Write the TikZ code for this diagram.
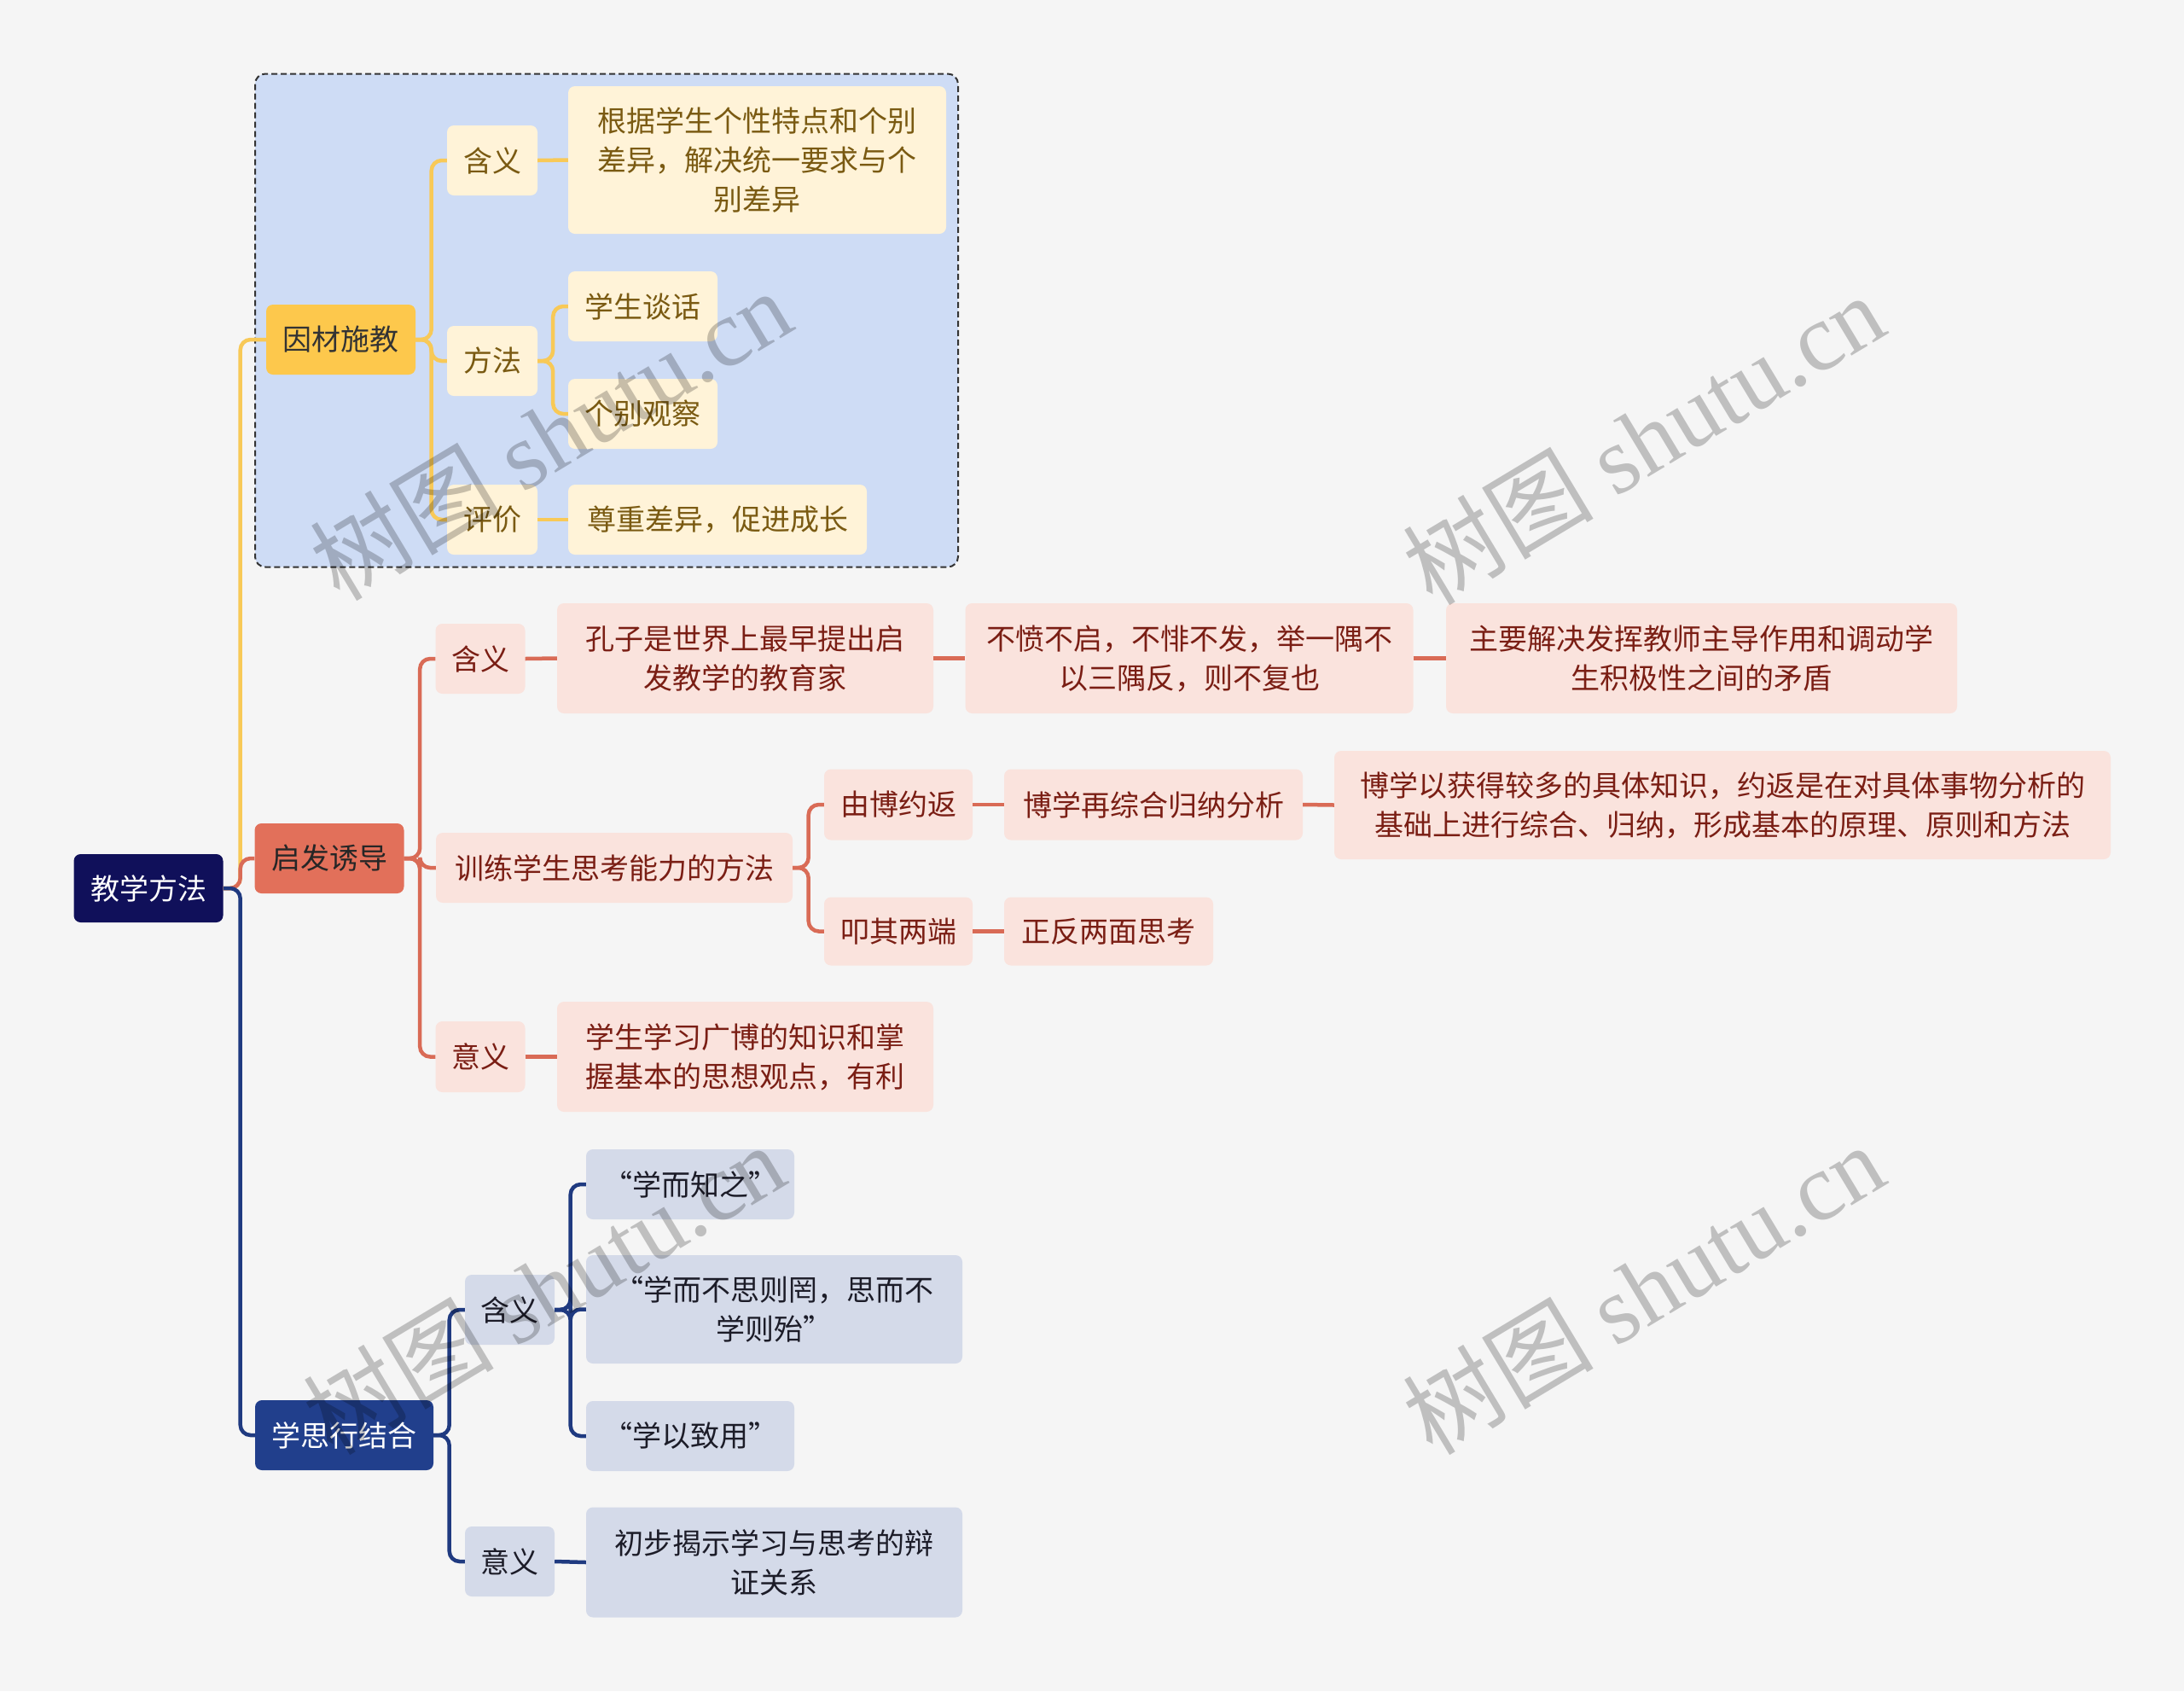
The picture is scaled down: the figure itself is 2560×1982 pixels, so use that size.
\documentclass[tikz,border=0pt]{standalone}
\usepackage{fontspec}
\setmainfont{Noto Sans CJK SC}
\newfontfamily\wmlatin{Liberation Serif}
\definecolor{bgc}{HTML}{F5F5F5}
\definecolor{rootc}{HTML}{10105A}
\definecolor{contfill}{HTML}{CEDCF5}
\definecolor{yl}{HTML}{FDC84C}
\definecolor{ylline}{HTML}{F8C957}
\definecolor{ysub}{HTML}{FFF3D8}
\definecolor{ytext}{HTML}{7A5A12}
\definecolor{rd}{HTML}{E2705A}
\definecolor{rdline}{HTML}{D96B56}
\definecolor{rsub}{HTML}{FAE3DD}
\definecolor{rtext}{HTML}{7A1E14}
\definecolor{bl}{HTML}{213F8C}
\definecolor{blline}{HTML}{1F3A80}
\definecolor{bsub}{HTML}{D4DAE9}
\definecolor{btext}{HTML}{1C1C28}
\tikzset{
  base/.style={rounded corners=8pt, inner sep=0pt, align=center, font=\fontsize{34}{46}\selectfont},
  rootbox/.style={base, fill=rootc, text=white},
  ytop/.style={base, fill=yl, text=black!80},
  ysubbox/.style={base, fill=ysub, text=ytext},
  rtop/.style={base, fill=rd, text=black!85},
  rsubbox/.style={base, fill=rsub, text=rtext},
  btop/.style={base, fill=bl, text=white},
  bsubbox/.style={base, fill=bsub, text=btext},
  conn/.style={line width=4.5pt, rounded corners=12pt},
  yconn/.style={conn, draw=ylline},
  rconn/.style={conn, draw=rdline},
  bconn/.style={conn, draw=blline},
  wm/.style={rotate=31, text=black, opacity=0.22, font=\fontsize{112}{120}\selectfont}
}
\begin{document}
\begin{tikzpicture}[x=1pt,y=-1pt]
\fill[bgc] (0,0) rectangle (2560,1982);
\useasboundingbox (0,0) rectangle (2560,1982);
% container
\draw[fill=contfill, draw=black!80, line width=2pt, dash pattern=on 7pt off 4pt, rounded corners=12pt] (299,86.5) rectangle (1123,664.5);

% root
\node[rootbox, minimum width=175pt, minimum height=80pt] (root) at (174,1041) {教学方法};

% yellow branch
\node[ytop, minimum width=175pt, minimum height=82pt] (yin) at (399.5,398) {因材施教};
\node[ysubbox, minimum width=106pt, minimum height=82pt] (yhy) at (577,188) {含义};
\node[ysubbox, minimum width=443pt, minimum height=173pt] (ygj) at (887.5,187.5) {根据学生个性特点和个别\\差异，解决统一要求与个\\别差异};
\node[ysubbox, minimum width=106pt, minimum height=82pt] (yff) at (577,423) {方法};
\node[ysubbox, minimum width=175pt, minimum height=82pt] (ytan) at (753.5,359) {学生谈话};
\node[ysubbox, minimum width=175pt, minimum height=82pt] (ygb) at (753.5,485) {个别观察};
\node[ysubbox, minimum width=106pt, minimum height=82pt] (ypj) at (577,609) {评价};
\node[ysubbox, minimum width=350pt, minimum height=82pt] (yzz) at (841,609) {尊重差异，促进成长};

% red branch
\node[rtop, minimum width=175pt, minimum height=82pt] (qf) at (386,1006) {启发诱导};
\node[rsubbox, minimum width=105pt, minimum height=82pt] (rhy) at (563,772) {含义};
\node[rsubbox, minimum width=441pt, minimum height=129pt] (rkz) at (873.5,771.5) {孔子是世界上最早提出启\\发教学的教育家};
\node[rsubbox, minimum width=525pt, minimum height=129pt] (rbf) at (1394,771.5) {不愤不启，不悱不发，举一隅不\\以三隅反，则不复也};
\node[rsubbox, minimum width=599pt, minimum height=129pt] (rzy) at (1994.5,771.5) {主要解决发挥教师主导作用和调动学\\生积极性之间的矛盾};
\node[rsubbox, minimum width=418pt, minimum height=82pt] (rxl) at (720,1017) {训练学生思考能力的方法};
\node[rsubbox, minimum width=174pt, minimum height=83pt] (ryb) at (1053,943) {由博约返};
\node[rsubbox, minimum width=350pt, minimum height=83pt] (rbx) at (1352,943) {博学再综合归纳分析};
\node[rsubbox, minimum width=910pt, minimum height=127pt] (rbxy) at (2019,943.5) {博学以获得较多的具体知识，约返是在对具体事物分析的\\基础上进行综合、归纳，形成基本的原理、原则和方法};
\node[rsubbox, minimum width=174pt, minimum height=80pt] (rkq) at (1053,1091.5) {叩其两端};
\node[rsubbox, minimum width=245pt, minimum height=80pt] (rzf) at (1299.5,1091.5) {正反两面思考};
\node[rsubbox, minimum width=105pt, minimum height=83pt] (ryy) at (563,1238.5) {意义};
\node[rsubbox, minimum width=441pt, minimum height=129pt] (rxs) at (873.5,1238.5) {学生学习广博的知识和掌\\握基本的思想观点，有利};

% blue branch
\node[btop, minimum width=209pt, minimum height=82pt] (xs) at (403.5,1682) {学思行结合};
\node[bsubbox, minimum width=105pt, minimum height=82pt] (bhy) at (597.5,1535) {含义};
\node[bsubbox, minimum width=244pt, minimum height=82pt] (bxz) at (809,1388) {“学而知之”};
\node[bsubbox, minimum width=441pt, minimum height=127pt] (bxb) at (907.5,1534.5) {“学而不思则罔，思而不\\学则殆”};
\node[bsubbox, minimum width=244pt, minimum height=82pt] (bxy) at (809,1683) {“学以致用”};
\node[bsubbox, minimum width=105pt, minimum height=82pt] (byy) at (597.5,1830) {意义};
\node[bsubbox, minimum width=441pt, minimum height=129pt] (bcb) at (907.5,1831) {初步揭示学习与思考的辩\\证关系};

% connectors root
\draw[yconn] (root.east) -- ++(20,0) |- (yin.west);
\draw[rconn] (root.east) -- ++(20,0) |- (qf.west);
\draw[bconn] (root.east) -- ++(20,0) |- (xs.west);
% yellow
\draw[yconn] (yin.east) -- ++(18.5,0) |- (yhy.west);
\draw[yconn] (yin.east) -- ++(18.5,0) |- (yff.west);
\draw[yconn] (yin.east) -- ++(18.5,0) |- (ypj.west);
\draw[yconn] (yhy.east) -- (ygj.west);
\draw[yconn] (yff.east) -- ++(18,0) |- (ytan.west);
\draw[yconn] (yff.east) -- ++(18,0) |- (ygb.west);
\draw[yconn] (ypj.east) -- (yzz.west);
% red
\draw[rconn] (qf.east) -- ++(18.5,0) |- (rhy.west);
\draw[rconn] (qf.east) -- ++(18.5,0) |- (rxl.west);
\draw[rconn] (qf.east) -- ++(18.5,0) |- (ryy.west);
\draw[rconn] (rhy.east) -- (rkz.west);
\draw[rconn] (rkz.east) -- (rbf.west);
\draw[rconn] (rbf.east) -- (rzy.west);
\draw[rconn] (rxl.east) -- ++(18.5,0) |- (ryb.west);
\draw[rconn] (rxl.east) -- ++(18.5,0) |- (rkq.west);
\draw[rconn] (ryb.east) -- (rbx.west);
\draw[rconn] (rbx.east) -- (rbxy.west);
\draw[rconn] (rkq.east) -- (rzf.west);
\draw[rconn] (ryy.east) -- (rxs.west);
% blue
\draw[bconn] (xs.east) -- ++(18.5,0) |- (bhy.west);
\draw[bconn] (xs.east) -- ++(18.5,0) |- (byy.west);
\draw[bconn] (bhy.east) -- ++(18.5,0) |- (bxz.west);
\draw[bconn] (bhy.east) -- ++(18.5,0) |- (bxb.west);
\draw[bconn] (bhy.east) -- ++(18.5,0) |- (bxy.west);
\draw[bconn] (byy.east) -- (bcb.west);

% watermarks
\node[wm] (wm1) at (645,509) {树图 {\wmlatin shutu.cn}};
\node[wm] (wm2) at (1926,514) {树图 {\wmlatin shutu.cn}};
\node[wm] (wm3) at (637,1510) {树图 {\wmlatin shutu.cn}};
\node[wm] (wm4) at (1926,1510) {树图 {\wmlatin shutu.cn}};
\end{tikzpicture}
\end{document}
